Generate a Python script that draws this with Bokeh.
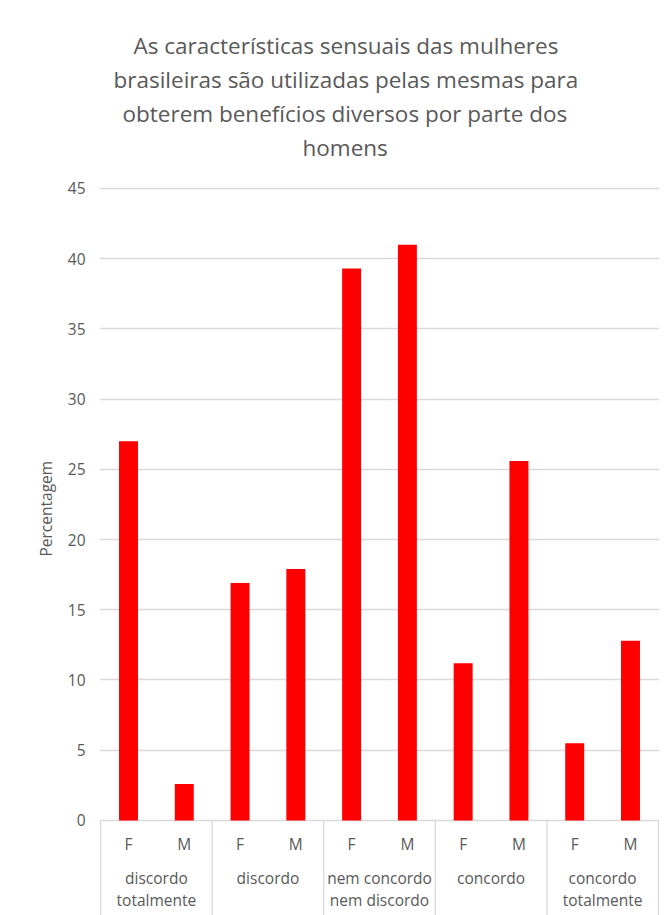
import math
from bokeh.plotting import figure
from bokeh.models import ColumnDataSource, Range1d, FixedTicker, Title
from bokeh.embed import file_html
from bokeh.resources import INLINE
from bokeh.core.properties import value

# ---- data ----
groups = ["discordo\ntotalmente", "discordo", "nem concordo\nnem discordo",
          "concordo", "concordo\ntotalmente"]
sexes = ["F", "M"]
values_f = [27.0, 16.9, 39.3, 11.2, 5.5]
values_m = [2.6, 17.9, 41.0, 25.6, 12.8]
y_ticks = [0, 5, 10, 15, 20, 25, 30, 35, 40, 45]
title_lines = ["As características sensuais das mulheres",
               "brasileiras são utilizadas pelas mesmas para",
               "obterem benefícios diversos por parte dos",
               "homens"]
title_offsets = [34, 14, 23, 203]   # left offsets (px) so each line is centred like the original
y_label = "Percentagem"

FONT = "Open Sans"
TXT = "#595959"
GRID = "#d9d9d9"

bar_x, bar_top, bar_lab = [], [], []
for g in range(len(groups)):
    for s, vals in enumerate([values_f, values_m]):
        bar_x.append(2 * g + s + 0.5)
        bar_top.append(vals[g])
        bar_lab.append(sexes[s])
group_x = [2 * g + 1 for g in range(len(groups))]
sep_x = [2 * g for g in range(len(groups) + 1)]

p = figure(width=668, height=915, output_backend="svg", toolbar_location=None,
           x_range=Range1d(-0.02, 2 * len(groups) + 0.02),
           y_range=Range1d(-6.77, 45.14),
           min_border_left=99, min_border_right=9, min_border_bottom=0,
           min_border_top=186)
p.title = None
# spacer between plot area and title block
p.add_layout(Title(text=" ", text_font=FONT, text_font_size="15px",
                   standoff=1), "above")
n = len(title_lines)
for i in range(n - 1, -1, -1):
    p.add_layout(Title(text=title_lines[i], align="left", text_font=FONT,
                       text_font_size="22.5px", text_color=TXT,
                       text_font_style="normal", offset=title_offsets[i],
                       standoff=1),
                 "above")
p.background_fill_color = "white"
p.border_fill_color = "white"
p.outline_line_color = None

p.xaxis.visible = False
p.xgrid.visible = False
yax = p.yaxis[0]
yax.ticker = FixedTicker(ticks=y_ticks)
yax.axis_line_color = None
yax.major_tick_line_color = None
yax.minor_tick_line_color = None
yax.major_tick_out = 0
yax.major_label_standoff = 14
yax.major_label_text_font = FONT
yax.major_label_text_font_size = "15.5px"
yax.major_label_text_color = TXT
p.ygrid.grid_line_color = GRID
p.ygrid.grid_line_width = 1.3

p.add_layout(Title(text=" ", text_font=FONT, text_font_size="3px",
                   standoff=0), "left")
p.add_layout(Title(text=y_label, align="left", offset=359, text_font=FONT,
                   text_font_size="15.5px", text_font_style="normal",
                   text_color=TXT, standoff=4), "left")

src = ColumnDataSource(dict(x=bar_x, top=bar_top, lab=bar_lab))
p.vbar(x="x", top="top", bottom=0, width=0.34, source=src,
       fill_color="#ff0000", line_color=None)

# category box below the axis
p.segment(x0=sep_x, y0=[0] * len(sep_x), x1=sep_x, y1=[-7] * len(sep_x),
          line_color=GRID, line_width=1.3)
p.text(x="x", y=-1.7, text="lab", source=src, text_font=value(FONT),
       text_font_size="15.5px", text_color=TXT, text_align="center",
       text_baseline="middle")
gsrc = ColumnDataSource(dict(x=group_x, lab=groups))
p.text(x="x", y=-3.35, text="lab", source=gsrc, text_font=value(FONT),
       text_font_size="15.5px", text_color=TXT, text_align="center",
       text_baseline="top", text_line_height=1.0)

open("out.html", "w").write(file_html(p, INLINE))
